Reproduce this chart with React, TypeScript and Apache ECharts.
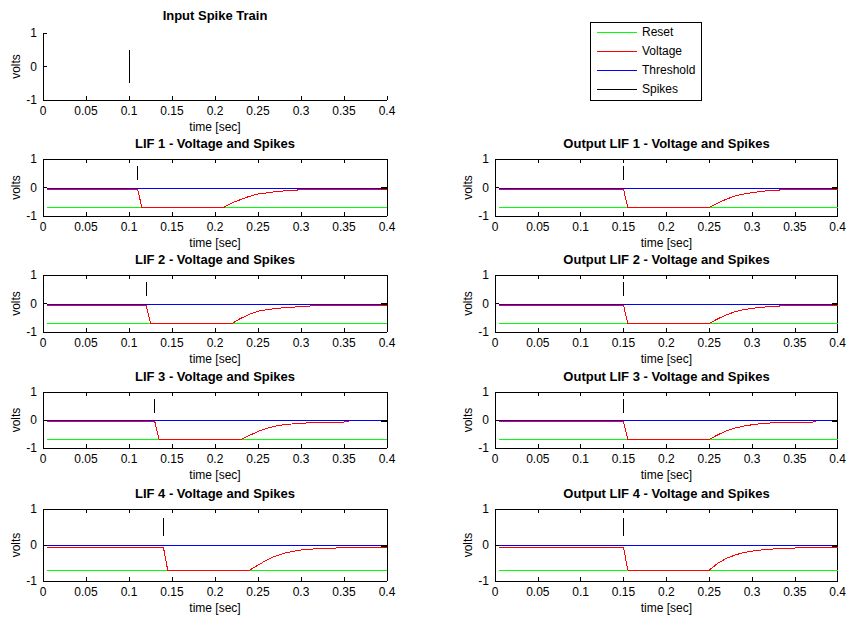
import React, { useEffect, useRef } from 'react';
import * as echarts from 'echarts';

const FONT = '"Liberation Sans", Arial, Helvetica, sans-serif';

// ---- data ----
const timeMin = 0;
const timeMax = 0.4;
const timeStep = 0.05;
const voltMin = -1;
const voltMax = 1;
const voltStep = 1;

const legendNames = ['Reset', 'Voltage', 'Threshold', 'Spikes'];

const panelTitles = [
  'Input Spike Train',
  'LIF 1 - Voltage and Spikes',
  'LIF 2 - Voltage and Spikes',
  'LIF 3 - Voltage and Spikes',
  'LIF 4 - Voltage and Spikes',
  'Output LIF 1 - Voltage and Spikes',
  'Output LIF 2 - Voltage and Spikes',
  'Output LIF 3 - Voltage and Spikes',
  'Output LIF 4 - Voltage and Spikes',
];

const inputSpike = [[0.1, -0.5], [0.1, 0.5]];
const lifSpikeTimes = [0.11, 0.12, 0.13, 0.14];
const outputSpikeTimes = [0.15, 0.15, 0.15, 0.15];
const spikeLow = 0.25;
const spikeHigh = 0.75;
const resetLevel = -0.7;
const thresholdLevel = -0.02;
const traceStart = 0.005;
const traceEnd = 0.4;
const endMarker = [[0.393, -0.02], [0.4, -0.02]];

const lif1Voltage = [[0.005, -0.06], [0.11, -0.06], [0.115, -0.7], [0.21, -0.7], [0.22, -0.54], [0.23, -0.42], [0.24, -0.31], [0.25, -0.23], [0.26, -0.19], [0.27, -0.15], [0.28, -0.12], [0.29, -0.1], [0.3, -0.08], [0.302, -0.06], [0.4, -0.06]];
const lif2Voltage = [[0.005, -0.06], [0.12, -0.06], [0.125, -0.7], [0.22, -0.7], [0.23, -0.52], [0.24, -0.38], [0.25, -0.27], [0.26, -0.22], [0.27, -0.18], [0.28, -0.15], [0.29, -0.13], [0.3, -0.11], [0.31, -0.1], [0.312, -0.06], [0.4, -0.06]];
const lif3Voltage = [[0.005, -0.06], [0.13, -0.06], [0.135, -0.7], [0.23, -0.7], [0.24, -0.55], [0.25, -0.41], [0.26, -0.3], [0.27, -0.22], [0.28, -0.17], [0.29, -0.14], [0.3, -0.12], [0.31, -0.1], [0.32, -0.08], [0.356, -0.07]];
const lif4Voltage = [[0.005, -0.06], [0.14, -0.06], [0.145, -0.7], [0.24, -0.7], [0.25, -0.56], [0.26, -0.42], [0.27, -0.31], [0.28, -0.23], [0.29, -0.18], [0.3, -0.14], [0.31, -0.12], [0.32, -0.1], [0.34, -0.09], [0.342, -0.06], [0.4, -0.06]];
const out1Voltage = [[0.005, -0.06], [0.15, -0.06], [0.155, -0.7], [0.25, -0.7], [0.26, -0.55], [0.27, -0.41], [0.28, -0.3], [0.29, -0.23], [0.3, -0.18], [0.31, -0.14], [0.32, -0.11], [0.33, -0.09], [0.34, -0.08], [0.342, -0.06], [0.4, -0.06]];
const out2Voltage = [[0.005, -0.06], [0.15, -0.06], [0.155, -0.7], [0.25, -0.7], [0.26, -0.54], [0.27, -0.4], [0.28, -0.29], [0.29, -0.22], [0.3, -0.17], [0.31, -0.14], [0.32, -0.11], [0.33, -0.09], [0.34, -0.08], [0.342, -0.06], [0.4, -0.06]];
const out3Voltage = [[0.005, -0.06], [0.15, -0.06], [0.155, -0.7], [0.25, -0.7], [0.26, -0.53], [0.27, -0.39], [0.28, -0.29], [0.29, -0.22], [0.3, -0.17], [0.31, -0.13], [0.32, -0.11], [0.33, -0.09], [0.375, -0.07]];
const out4Voltage = [[0.005, -0.06], [0.15, -0.06], [0.155, -0.7], [0.25, -0.7], [0.26, -0.51], [0.27, -0.37], [0.28, -0.28], [0.29, -0.21], [0.3, -0.17], [0.31, -0.14], [0.32, -0.12], [0.33, -0.1], [0.35, -0.09], [0.352, -0.06], [0.4, -0.06]];

const voltageTraces = [lif1Voltage, lif2Voltage, lif3Voltage, lif4Voltage, out1Voltage, out2Voltage, out3Voltage, out4Voltage];
const spikeTimes = [...lifSpikeTimes, ...outputSpikeTimes];

// ---- layout (pixels) ----
const COL_LEFT = [43, 495];
const COL_WIDTH = [344, 343];
const ROWS = [
  { top: 33, height: 67, titleTop: 9 },
  { top: 159, height: 57, titleTop: 137 },
  { top: 275, height: 57, titleTop: 253 },
  { top: 392, height: 56, titleTop: 370 },
  { top: 509, height: 72, titleTop: 487 },
];

const COLORS: Record<string, string> = {
  Reset: '#00ff00',
  Voltage: '#ff0000',
  Threshold: '#0000ff',
  Spikes: '#000000',
};

function buildOption() {
  const grids: any[] = [];
  const xAxes: any[] = [];
  const yAxes: any[] = [];
  const series: any[] = [];
  const titles: any[] = [];

  const panels: { col: number; row: number; box: boolean }[] = [
    { col: 0, row: 0, box: false },
    { col: 0, row: 1, box: true },
    { col: 0, row: 2, box: true },
    { col: 0, row: 3, box: true },
    { col: 0, row: 4, box: true },
    { col: 1, row: 1, box: true },
    { col: 1, row: 2, box: true },
    { col: 1, row: 3, box: true },
    { col: 1, row: 4, box: true },
  ];

  const axisLine = { show: true, onZero: false, lineStyle: { color: '#000', width: 1 } };
  const tick = { show: true, inside: true, length: 4, lineStyle: { color: '#000', width: 1 } };
  const labelStyle = { color: '#000', fontSize: 12, fontFamily: FONT };

  panels.forEach((p, g) => {
    const r = ROWS[p.row];
    const left = COL_LEFT[p.col];
    const width = COL_WIDTH[p.col];
    grids.push({ left, top: r.top, width, height: r.height, containLabel: false });
    titles.push({
      text: panelTitles[g],
      left: left + width / 2,
      top: r.titleTop,
      textAlign: 'center',
      padding: 0,
      textStyle: { fontSize: 13, fontWeight: 'bold', color: '#000', fontFamily: FONT },
    });
    // bottom x
    xAxes.push({
      type: 'value', gridIndex: g, position: 'bottom', min: timeMin, max: timeMax, interval: timeStep,
      axisLine, axisTick: tick, splitLine: { show: false },
      axisLabel: { ...labelStyle, margin: 5, showMinLabel: true, showMaxLabel: true },
      name: 'time [sec]', nameLocation: 'middle', nameGap: 21,
      nameTextStyle: { color: '#000', fontSize: 12, fontFamily: FONT },
    });
    // top x (box)
    xAxes.push({
      type: 'value', gridIndex: g, position: 'top', min: timeMin, max: timeMax, interval: timeStep,
      show: p.box, axisLine, axisTick: tick, axisLabel: { show: false }, splitLine: { show: false },
    });
    yAxes.push({
      type: 'value', gridIndex: g, position: 'left', min: voltMin, max: voltMax, interval: voltStep,
      axisLine, axisTick: tick, splitLine: { show: false },
      axisLabel: { ...labelStyle, margin: 6 },
      name: 'volts', nameLocation: 'middle', nameGap: 20,
      nameTextStyle: { color: '#000', fontSize: 12, fontFamily: FONT },
    });
    yAxes.push({
      type: 'value', gridIndex: g, position: 'right', min: voltMin, max: voltMax, interval: voltStep,
      show: p.box, axisLine, axisTick: tick, axisLabel: { show: false }, splitLine: { show: false },
    });

    const xi = 2 * g;
    const yi = 2 * g;
    const line = (name: string, data: any[], width = 1) => ({
      type: 'line', name, xAxisIndex: xi, yAxisIndex: yi, data,
      symbol: 'none', silent: true, animation: false,
      lineStyle: { color: COLORS[name], width },
      itemStyle: { color: COLORS[name] },
    });

    if (g === 0) {
      series.push(line('Spikes', inputSpike));
    } else {
      const t = spikeTimes[g - 1];
      series.push(line('Reset', [[traceStart, resetLevel], [traceEnd, resetLevel]]));
      series.push(line('Voltage', voltageTraces[g - 1]));
      series.push(line('Threshold', [[traceStart, thresholdLevel], [traceEnd, thresholdLevel]]));
      series.push(line('Spikes', [[t, spikeLow], [t, spikeHigh]]));
      series.push(line('Spikes', endMarker, 2));
    }
  });

  return {
    animation: false,
    backgroundColor: '#ffffff',
    title: titles,
    grid: grids,
    xAxis: xAxes,
    yAxis: yAxes,
    series,
    legend: {
      data: legendNames,
      selectedMode: false,
      orient: 'vertical',
      left: 590,
      top: 22,
      padding: [4, 6, 5, 7],
      itemGap: 7,
      itemWidth: 40,
      itemHeight: 12,
      icon: 'path://M0 0H40V1H0Z',
      backgroundColor: '#ffffff',
      borderColor: '#000',
      borderWidth: 1,
      textStyle: { color: '#000', fontSize: 12, fontFamily: FONT },
    },
  };
}

export default function App() {
  const ref = useRef<HTMLDivElement>(null);
  useEffect(() => {
    if (!ref.current) return;
    const chart = echarts.init(ref.current, undefined, { renderer: 'svg' });
    chart.setOption(buildOption() as any);
    return () => chart.dispose();
  }, []);
  return (
    <div
      ref={ref}
      style={{
        position: 'absolute', left: 0, top: 0, width: 849, height: 617, background: '#fff',
        shapeRendering: 'crispEdges',
      } as any}
    />
  );
}
